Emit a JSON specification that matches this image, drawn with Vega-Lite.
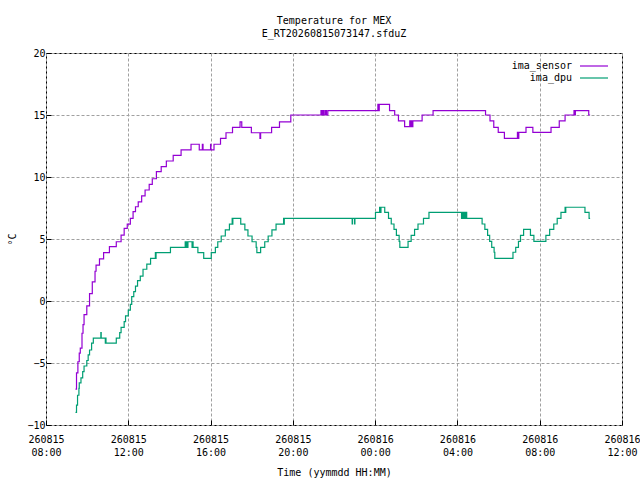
{
  "$schema": "https://vega.github.io/schema/vega-lite/v6.json",
  "width": 576,
  "height": 372,
  "autosize": {"type": "none"},
  "padding": {"left": 46, "top": 53, "right": 18, "bottom": 55},
  "background": "white",
  "title": {
    "text": ["Temperature for MEX", "E_RT20260815073147.sfduZ"],
    "anchor": "middle",
    "offset": 9,
    "lineHeight": 13
  },
  "data": {
    "values": [
      {"t": "2026-08-15T09:26Z", "series": "ima_sensor", "temp": -7.1},
      {"t": "2026-08-15T09:29Z", "series": "ima_sensor", "temp": -5.8},
      {"t": "2026-08-15T09:33Z", "series": "ima_sensor", "temp": -4.9},
      {"t": "2026-08-15T09:37Z", "series": "ima_sensor", "temp": -4.2},
      {"t": "2026-08-15T09:40Z", "series": "ima_sensor", "temp": -3.8},
      {"t": "2026-08-15T09:45Z", "series": "ima_sensor", "temp": -2.6},
      {"t": "2026-08-15T09:48Z", "series": "ima_sensor", "temp": -1.9},
      {"t": "2026-08-15T09:51Z", "series": "ima_sensor", "temp": -1.1},
      {"t": "2026-08-15T09:59Z", "series": "ima_sensor", "temp": -0.4},
      {"t": "2026-08-15T10:07Z", "series": "ima_sensor", "temp": 0.6},
      {"t": "2026-08-15T10:15Z", "series": "ima_sensor", "temp": 1.55},
      {"t": "2026-08-15T10:23Z", "series": "ima_sensor", "temp": 2.4},
      {"t": "2026-08-15T10:26Z", "series": "ima_sensor", "temp": 2.9},
      {"t": "2026-08-15T10:36Z", "series": "ima_sensor", "temp": 3.4},
      {"t": "2026-08-15T10:48Z", "series": "ima_sensor", "temp": 3.9},
      {"t": "2026-08-15T11:05Z", "series": "ima_sensor", "temp": 4.38},
      {"t": "2026-08-15T11:25Z", "series": "ima_sensor", "temp": 4.78},
      {"t": "2026-08-15T11:39Z", "series": "ima_sensor", "temp": 5.32},
      {"t": "2026-08-15T11:48Z", "series": "ima_sensor", "temp": 5.86},
      {"t": "2026-08-15T11:57Z", "series": "ima_sensor", "temp": 6.2},
      {"t": "2026-08-15T12:06Z", "series": "ima_sensor", "temp": 6.67},
      {"t": "2026-08-15T12:14Z", "series": "ima_sensor", "temp": 7.2},
      {"t": "2026-08-15T12:21Z", "series": "ima_sensor", "temp": 7.6},
      {"t": "2026-08-15T12:29Z", "series": "ima_sensor", "temp": 8.0},
      {"t": "2026-08-15T12:39Z", "series": "ima_sensor", "temp": 8.47},
      {"t": "2026-08-15T12:49Z", "series": "ima_sensor", "temp": 8.95},
      {"t": "2026-08-15T13:01Z", "series": "ima_sensor", "temp": 9.41},
      {"t": "2026-08-15T13:10Z", "series": "ima_sensor", "temp": 9.86},
      {"t": "2026-08-15T13:22Z", "series": "ima_sensor", "temp": 10.43},
      {"t": "2026-08-15T13:36Z", "series": "ima_sensor", "temp": 10.83},
      {"t": "2026-08-15T13:51Z", "series": "ima_sensor", "temp": 11.29},
      {"t": "2026-08-15T14:11Z", "series": "ima_sensor", "temp": 11.75},
      {"t": "2026-08-15T14:34Z", "series": "ima_sensor", "temp": 12.18},
      {"t": "2026-08-15T15:03Z", "series": "ima_sensor", "temp": 12.64},
      {"t": "2026-08-15T15:27Z", "series": "ima_sensor", "temp": 12.18},
      {"t": "2026-08-15T15:36Z", "series": "ima_sensor", "temp": 12.64},
      {"t": "2026-08-15T15:38Z", "series": "ima_sensor", "temp": 12.18},
      {"t": "2026-08-15T16:00Z", "series": "ima_sensor", "temp": 12.64},
      {"t": "2026-08-15T16:01Z", "series": "ima_sensor", "temp": 12.18},
      {"t": "2026-08-15T16:10Z", "series": "ima_sensor", "temp": 12.64},
      {"t": "2026-08-15T16:29Z", "series": "ima_sensor", "temp": 13.12},
      {"t": "2026-08-15T16:45Z", "series": "ima_sensor", "temp": 13.57},
      {"t": "2026-08-15T17:04Z", "series": "ima_sensor", "temp": 14.0},
      {"t": "2026-08-15T17:26Z", "series": "ima_sensor", "temp": 14.45},
      {"t": "2026-08-15T17:31Z", "series": "ima_sensor", "temp": 14.0},
      {"t": "2026-08-15T17:59Z", "series": "ima_sensor", "temp": 13.57},
      {"t": "2026-08-15T18:24Z", "series": "ima_sensor", "temp": 13.12},
      {"t": "2026-08-15T18:26Z", "series": "ima_sensor", "temp": 13.57},
      {"t": "2026-08-15T18:58Z", "series": "ima_sensor", "temp": 14.0},
      {"t": "2026-08-15T19:21Z", "series": "ima_sensor", "temp": 14.45},
      {"t": "2026-08-15T19:54Z", "series": "ima_sensor", "temp": 15.0},
      {"t": "2026-08-15T21:22Z", "series": "ima_sensor", "temp": 15.35},
      {"t": "2026-08-15T21:25Z", "series": "ima_sensor", "temp": 15.0},
      {"t": "2026-08-15T21:28Z", "series": "ima_sensor", "temp": 15.35},
      {"t": "2026-08-15T21:31Z", "series": "ima_sensor", "temp": 15.0},
      {"t": "2026-08-15T21:35Z", "series": "ima_sensor", "temp": 15.35},
      {"t": "2026-08-15T21:38Z", "series": "ima_sensor", "temp": 15.0},
      {"t": "2026-08-15T21:42Z", "series": "ima_sensor", "temp": 15.35},
      {"t": "2026-08-16T00:08Z", "series": "ima_sensor", "temp": 15.86},
      {"t": "2026-08-16T00:10Z", "series": "ima_sensor", "temp": 15.35},
      {"t": "2026-08-16T00:12Z", "series": "ima_sensor", "temp": 15.86},
      {"t": "2026-08-16T00:42Z", "series": "ima_sensor", "temp": 15.35},
      {"t": "2026-08-16T00:57Z", "series": "ima_sensor", "temp": 15.0},
      {"t": "2026-08-16T01:08Z", "series": "ima_sensor", "temp": 14.52},
      {"t": "2026-08-16T01:26Z", "series": "ima_sensor", "temp": 14.06},
      {"t": "2026-08-16T01:41Z", "series": "ima_sensor", "temp": 14.52},
      {"t": "2026-08-16T01:44Z", "series": "ima_sensor", "temp": 14.06},
      {"t": "2026-08-16T01:47Z", "series": "ima_sensor", "temp": 14.52},
      {"t": "2026-08-16T01:49Z", "series": "ima_sensor", "temp": 14.06},
      {"t": "2026-08-16T01:50Z", "series": "ima_sensor", "temp": 14.52},
      {"t": "2026-08-16T02:17Z", "series": "ima_sensor", "temp": 15.0},
      {"t": "2026-08-16T02:49Z", "series": "ima_sensor", "temp": 15.35},
      {"t": "2026-08-16T05:22Z", "series": "ima_sensor", "temp": 15.0},
      {"t": "2026-08-16T05:35Z", "series": "ima_sensor", "temp": 14.52},
      {"t": "2026-08-16T05:46Z", "series": "ima_sensor", "temp": 14.0},
      {"t": "2026-08-16T05:59Z", "series": "ima_sensor", "temp": 13.6},
      {"t": "2026-08-16T06:17Z", "series": "ima_sensor", "temp": 13.12},
      {"t": "2026-08-16T06:55Z", "series": "ima_sensor", "temp": 13.6},
      {"t": "2026-08-16T06:57Z", "series": "ima_sensor", "temp": 13.12},
      {"t": "2026-08-16T06:59Z", "series": "ima_sensor", "temp": 13.6},
      {"t": "2026-08-16T07:20Z", "series": "ima_sensor", "temp": 14.0},
      {"t": "2026-08-16T07:40Z", "series": "ima_sensor", "temp": 13.6},
      {"t": "2026-08-16T08:33Z", "series": "ima_sensor", "temp": 14.0},
      {"t": "2026-08-16T08:57Z", "series": "ima_sensor", "temp": 14.52},
      {"t": "2026-08-16T09:14Z", "series": "ima_sensor", "temp": 15.0},
      {"t": "2026-08-16T09:40Z", "series": "ima_sensor", "temp": 15.35},
      {"t": "2026-08-16T09:42Z", "series": "ima_sensor", "temp": 15.0},
      {"t": "2026-08-16T09:44Z", "series": "ima_sensor", "temp": 15.35},
      {"t": "2026-08-16T10:23Z", "series": "ima_sensor", "temp": 15.0},
      {"t": "2026-08-16T10:27Z", "series": "ima_sensor", "temp": 15.0},

      {"t": "2026-08-15T09:26Z", "series": "ima_dpu", "temp": -8.98},
      {"t": "2026-08-15T09:29Z", "series": "ima_dpu", "temp": -8.4},
      {"t": "2026-08-15T09:32Z", "series": "ima_dpu", "temp": -7.6},
      {"t": "2026-08-15T09:36Z", "series": "ima_dpu", "temp": -7.05},
      {"t": "2026-08-15T09:37Z", "series": "ima_dpu", "temp": -6.6},
      {"t": "2026-08-15T09:42Z", "series": "ima_dpu", "temp": -6.2},
      {"t": "2026-08-15T09:47Z", "series": "ima_dpu", "temp": -5.7},
      {"t": "2026-08-15T09:51Z", "series": "ima_dpu", "temp": -5.24},
      {"t": "2026-08-15T09:59Z", "series": "ima_dpu", "temp": -4.8},
      {"t": "2026-08-15T10:03Z", "series": "ima_dpu", "temp": -4.35},
      {"t": "2026-08-15T10:07Z", "series": "ima_dpu", "temp": -3.95},
      {"t": "2026-08-15T10:13Z", "series": "ima_dpu", "temp": -3.4},
      {"t": "2026-08-15T10:18Z", "series": "ima_dpu", "temp": -3.0},
      {"t": "2026-08-15T10:40Z", "series": "ima_dpu", "temp": -2.55},
      {"t": "2026-08-15T10:41Z", "series": "ima_dpu", "temp": -3.0},
      {"t": "2026-08-15T10:53Z", "series": "ima_dpu", "temp": -3.4},
      {"t": "2026-08-15T10:54Z", "series": "ima_dpu", "temp": -3.0},
      {"t": "2026-08-15T10:55Z", "series": "ima_dpu", "temp": -3.4},
      {"t": "2026-08-15T11:25Z", "series": "ima_dpu", "temp": -3.0},
      {"t": "2026-08-15T11:35Z", "series": "ima_dpu", "temp": -2.55},
      {"t": "2026-08-15T11:39Z", "series": "ima_dpu", "temp": -2.12},
      {"t": "2026-08-15T11:48Z", "series": "ima_dpu", "temp": -1.67},
      {"t": "2026-08-15T11:52Z", "series": "ima_dpu", "temp": -1.2},
      {"t": "2026-08-15T12:00Z", "series": "ima_dpu", "temp": -0.73},
      {"t": "2026-08-15T12:06Z", "series": "ima_dpu", "temp": -0.27},
      {"t": "2026-08-15T12:10Z", "series": "ima_dpu", "temp": 0.35},
      {"t": "2026-08-15T12:16Z", "series": "ima_dpu", "temp": 0.75},
      {"t": "2026-08-15T12:21Z", "series": "ima_dpu", "temp": 1.2},
      {"t": "2026-08-15T12:27Z", "series": "ima_dpu", "temp": 1.64},
      {"t": "2026-08-15T12:35Z", "series": "ima_dpu", "temp": 2.0},
      {"t": "2026-08-15T12:43Z", "series": "ima_dpu", "temp": 2.56},
      {"t": "2026-08-15T12:54Z", "series": "ima_dpu", "temp": 2.98},
      {"t": "2026-08-15T13:05Z", "series": "ima_dpu", "temp": 3.44},
      {"t": "2026-08-15T13:19Z", "series": "ima_dpu", "temp": 3.9},
      {"t": "2026-08-15T13:20Z", "series": "ima_dpu", "temp": 3.44},
      {"t": "2026-08-15T13:21Z", "series": "ima_dpu", "temp": 3.9},
      {"t": "2026-08-15T14:03Z", "series": "ima_dpu", "temp": 4.33},
      {"t": "2026-08-15T14:46Z", "series": "ima_dpu", "temp": 4.78},
      {"t": "2026-08-15T14:48Z", "series": "ima_dpu", "temp": 4.33},
      {"t": "2026-08-15T14:50Z", "series": "ima_dpu", "temp": 4.78},
      {"t": "2026-08-15T14:52Z", "series": "ima_dpu", "temp": 4.33},
      {"t": "2026-08-15T14:54Z", "series": "ima_dpu", "temp": 4.78},
      {"t": "2026-08-15T15:06Z", "series": "ima_dpu", "temp": 4.33},
      {"t": "2026-08-15T15:07Z", "series": "ima_dpu", "temp": 4.78},
      {"t": "2026-08-15T15:09Z", "series": "ima_dpu", "temp": 4.33},
      {"t": "2026-08-15T15:23Z", "series": "ima_dpu", "temp": 3.9},
      {"t": "2026-08-15T15:40Z", "series": "ima_dpu", "temp": 3.44},
      {"t": "2026-08-15T16:02Z", "series": "ima_dpu", "temp": 3.9},
      {"t": "2026-08-15T16:14Z", "series": "ima_dpu", "temp": 4.33},
      {"t": "2026-08-15T16:21Z", "series": "ima_dpu", "temp": 4.78},
      {"t": "2026-08-15T16:31Z", "series": "ima_dpu", "temp": 5.24},
      {"t": "2026-08-15T16:43Z", "series": "ima_dpu", "temp": 5.73},
      {"t": "2026-08-15T16:55Z", "series": "ima_dpu", "temp": 6.2},
      {"t": "2026-08-15T17:03Z", "series": "ima_dpu", "temp": 6.67},
      {"t": "2026-08-15T17:04Z", "series": "ima_dpu", "temp": 6.2},
      {"t": "2026-08-15T17:05Z", "series": "ima_dpu", "temp": 6.67},
      {"t": "2026-08-15T17:28Z", "series": "ima_dpu", "temp": 6.2},
      {"t": "2026-08-15T17:40Z", "series": "ima_dpu", "temp": 5.73},
      {"t": "2026-08-15T17:49Z", "series": "ima_dpu", "temp": 5.24},
      {"t": "2026-08-15T18:01Z", "series": "ima_dpu", "temp": 4.78},
      {"t": "2026-08-15T18:13Z", "series": "ima_dpu", "temp": 4.33},
      {"t": "2026-08-15T18:15Z", "series": "ima_dpu", "temp": 3.9},
      {"t": "2026-08-15T18:26Z", "series": "ima_dpu", "temp": 4.33},
      {"t": "2026-08-15T18:38Z", "series": "ima_dpu", "temp": 4.78},
      {"t": "2026-08-15T18:48Z", "series": "ima_dpu", "temp": 5.24},
      {"t": "2026-08-15T18:59Z", "series": "ima_dpu", "temp": 5.73},
      {"t": "2026-08-15T19:11Z", "series": "ima_dpu", "temp": 6.2},
      {"t": "2026-08-15T19:33Z", "series": "ima_dpu", "temp": 6.67},
      {"t": "2026-08-15T19:34Z", "series": "ima_dpu", "temp": 6.2},
      {"t": "2026-08-15T19:35Z", "series": "ima_dpu", "temp": 6.67},
      {"t": "2026-08-15T22:53Z", "series": "ima_dpu", "temp": 6.21},
      {"t": "2026-08-15T22:54Z", "series": "ima_dpu", "temp": 6.67},
      {"t": "2026-08-15T23:00Z", "series": "ima_dpu", "temp": 6.21},
      {"t": "2026-08-15T23:01Z", "series": "ima_dpu", "temp": 6.67},
      {"t": "2026-08-16T00:01Z", "series": "ima_dpu", "temp": 7.15},
      {"t": "2026-08-16T00:13Z", "series": "ima_dpu", "temp": 7.56},
      {"t": "2026-08-16T00:15Z", "series": "ima_dpu", "temp": 7.15},
      {"t": "2026-08-16T00:17Z", "series": "ima_dpu", "temp": 7.56},
      {"t": "2026-08-16T00:28Z", "series": "ima_dpu", "temp": 7.15},
      {"t": "2026-08-16T00:39Z", "series": "ima_dpu", "temp": 6.67},
      {"t": "2026-08-16T00:47Z", "series": "ima_dpu", "temp": 6.21},
      {"t": "2026-08-16T00:55Z", "series": "ima_dpu", "temp": 5.78},
      {"t": "2026-08-16T01:02Z", "series": "ima_dpu", "temp": 5.3},
      {"t": "2026-08-16T01:10Z", "series": "ima_dpu", "temp": 4.81},
      {"t": "2026-08-16T01:12Z", "series": "ima_dpu", "temp": 4.33},
      {"t": "2026-08-16T01:36Z", "series": "ima_dpu", "temp": 4.81},
      {"t": "2026-08-16T01:45Z", "series": "ima_dpu", "temp": 5.3},
      {"t": "2026-08-16T01:55Z", "series": "ima_dpu", "temp": 5.78},
      {"t": "2026-08-16T02:05Z", "series": "ima_dpu", "temp": 6.21},
      {"t": "2026-08-16T02:21Z", "series": "ima_dpu", "temp": 6.67},
      {"t": "2026-08-16T02:37Z", "series": "ima_dpu", "temp": 7.15},
      {"t": "2026-08-16T04:12Z", "series": "ima_dpu", "temp": 6.67},
      {"t": "2026-08-16T04:14Z", "series": "ima_dpu", "temp": 7.15},
      {"t": "2026-08-16T04:17Z", "series": "ima_dpu", "temp": 6.67},
      {"t": "2026-08-16T04:20Z", "series": "ima_dpu", "temp": 7.15},
      {"t": "2026-08-16T04:23Z", "series": "ima_dpu", "temp": 6.67},
      {"t": "2026-08-16T04:25Z", "series": "ima_dpu", "temp": 7.15},
      {"t": "2026-08-16T04:27Z", "series": "ima_dpu", "temp": 6.67},
      {"t": "2026-08-16T05:12Z", "series": "ima_dpu", "temp": 6.21},
      {"t": "2026-08-16T05:20Z", "series": "ima_dpu", "temp": 5.78},
      {"t": "2026-08-16T05:28Z", "series": "ima_dpu", "temp": 5.3},
      {"t": "2026-08-16T05:34Z", "series": "ima_dpu", "temp": 4.81},
      {"t": "2026-08-16T05:40Z", "series": "ima_dpu", "temp": 4.33},
      {"t": "2026-08-16T05:47Z", "series": "ima_dpu", "temp": 3.93},
      {"t": "2026-08-16T05:49Z", "series": "ima_dpu", "temp": 3.44},
      {"t": "2026-08-16T06:42Z", "series": "ima_dpu", "temp": 3.93},
      {"t": "2026-08-16T06:50Z", "series": "ima_dpu", "temp": 4.33},
      {"t": "2026-08-16T06:58Z", "series": "ima_dpu", "temp": 4.81},
      {"t": "2026-08-16T07:04Z", "series": "ima_dpu", "temp": 5.3},
      {"t": "2026-08-16T07:13Z", "series": "ima_dpu", "temp": 5.78},
      {"t": "2026-08-16T07:33Z", "series": "ima_dpu", "temp": 5.3},
      {"t": "2026-08-16T07:43Z", "series": "ima_dpu", "temp": 4.81},
      {"t": "2026-08-16T08:18Z", "series": "ima_dpu", "temp": 5.3},
      {"t": "2026-08-16T08:29Z", "series": "ima_dpu", "temp": 5.78},
      {"t": "2026-08-16T08:41Z", "series": "ima_dpu", "temp": 6.21},
      {"t": "2026-08-16T08:51Z", "series": "ima_dpu", "temp": 6.67},
      {"t": "2026-08-16T09:02Z", "series": "ima_dpu", "temp": 7.15},
      {"t": "2026-08-16T09:14Z", "series": "ima_dpu", "temp": 7.56},
      {"t": "2026-08-16T09:15Z", "series": "ima_dpu", "temp": 7.15},
      {"t": "2026-08-16T09:16Z", "series": "ima_dpu", "temp": 7.56},
      {"t": "2026-08-16T10:12Z", "series": "ima_dpu", "temp": 7.15},
      {"t": "2026-08-16T10:24Z", "series": "ima_dpu", "temp": 6.67},
      {"t": "2026-08-16T10:27Z", "series": "ima_dpu", "temp": 6.67}
    ]
  },
  "mark": {"type": "line", "interpolate": "step-after", "strokeWidth": 1.2},
  "encoding": {
    "x": {
      "field": "t",
      "type": "temporal",
      "title": "Time (yymmdd HH:MM)",
      "scale": {
        "type": "utc",
        "domain": [
          {"year": 2026, "month": 8, "date": 15, "hours": 8, "utc": true},
          {"year": 2026, "month": 8, "date": 16, "hours": 12, "utc": true}
        ]
      },
      "axis": {
        "values": [
          {"year": 2026, "month": 8, "date": 15, "hours": 8, "utc": true},
          {"year": 2026, "month": 8, "date": 15, "hours": 12, "utc": true},
          {"year": 2026, "month": 8, "date": 15, "hours": 16, "utc": true},
          {"year": 2026, "month": 8, "date": 15, "hours": 20, "utc": true},
          {"year": 2026, "month": 8, "date": 16, "hours": 0, "utc": true},
          {"year": 2026, "month": 8, "date": 16, "hours": 4, "utc": true},
          {"year": 2026, "month": 8, "date": 16, "hours": 8, "utc": true},
          {"year": 2026, "month": 8, "date": 16, "hours": 12, "utc": true}
        ],
        "labelExpr": "[utcFormat(datum.value, '%y%m%d'), utcFormat(datum.value, '%H:%M')]",
        "labelLineHeight": 13,
        "labelPadding": 14,
        "labelAngle": 0,
        "labelFlush": false,
        "labelOverlap": false,
        "titlePadding": 10
      }
    },
    "y": {
      "field": "temp",
      "type": "quantitative",
      "title": "°C",
      "scale": {"domain": [-10, 20], "nice": false, "zero": false},
      "axis": {"values": [-10, -5, 0, 5, 10, 15, 20], "labelPadding": 6, "titlePadding": 9}
    },
    "color": {
      "field": "series",
      "type": "nominal",
      "scale": {"domain": ["ima_sensor", "ima_dpu"], "range": ["#9400d3", "#009e73"]},
      "legend": {
        "orient": "none",
        "legendX": 543,
        "legendY": 8,
        "title": null,
        "padding": 0,
        "symbolType": "M-4,0H4",
        "symbolSize": 49,
        "symbolStrokeWidth": 1.2,
        "symbolFillColor": "transparent",
        "rowPadding": 2,
        "labelAlign": "right",
        "labelOffset": -27,
        "labelFontSize": 10,
        "labelColor": "black"
      }
    }
  },
  "config": {
    "font": "DejaVu Sans Mono",
    "view": {"stroke": "black", "strokeWidth": 1},
    "title": {"font": "DejaVu Sans Mono", "fontSize": 10, "fontWeight": "normal", "color": "black"},
    "axis": {
      "domain": false,
      "grid": true,
      "gridColor": "#a0a0a0",
      "gridDash": [3, 2],
      "gridOpacity": 1,
      "gridWidth": 1,
      "tickColor": "black",
      "tickSize": -5,
      "labelFont": "DejaVu Sans Mono",
      "labelFontSize": 10,
      "labelColor": "black",
      "titleFont": "DejaVu Sans Mono",
      "titleFontSize": 10,
      "titleFontWeight": "normal",
      "titleColor": "black"
    },
    "legend": {"labelFont": "DejaVu Sans Mono"}
  }
}
